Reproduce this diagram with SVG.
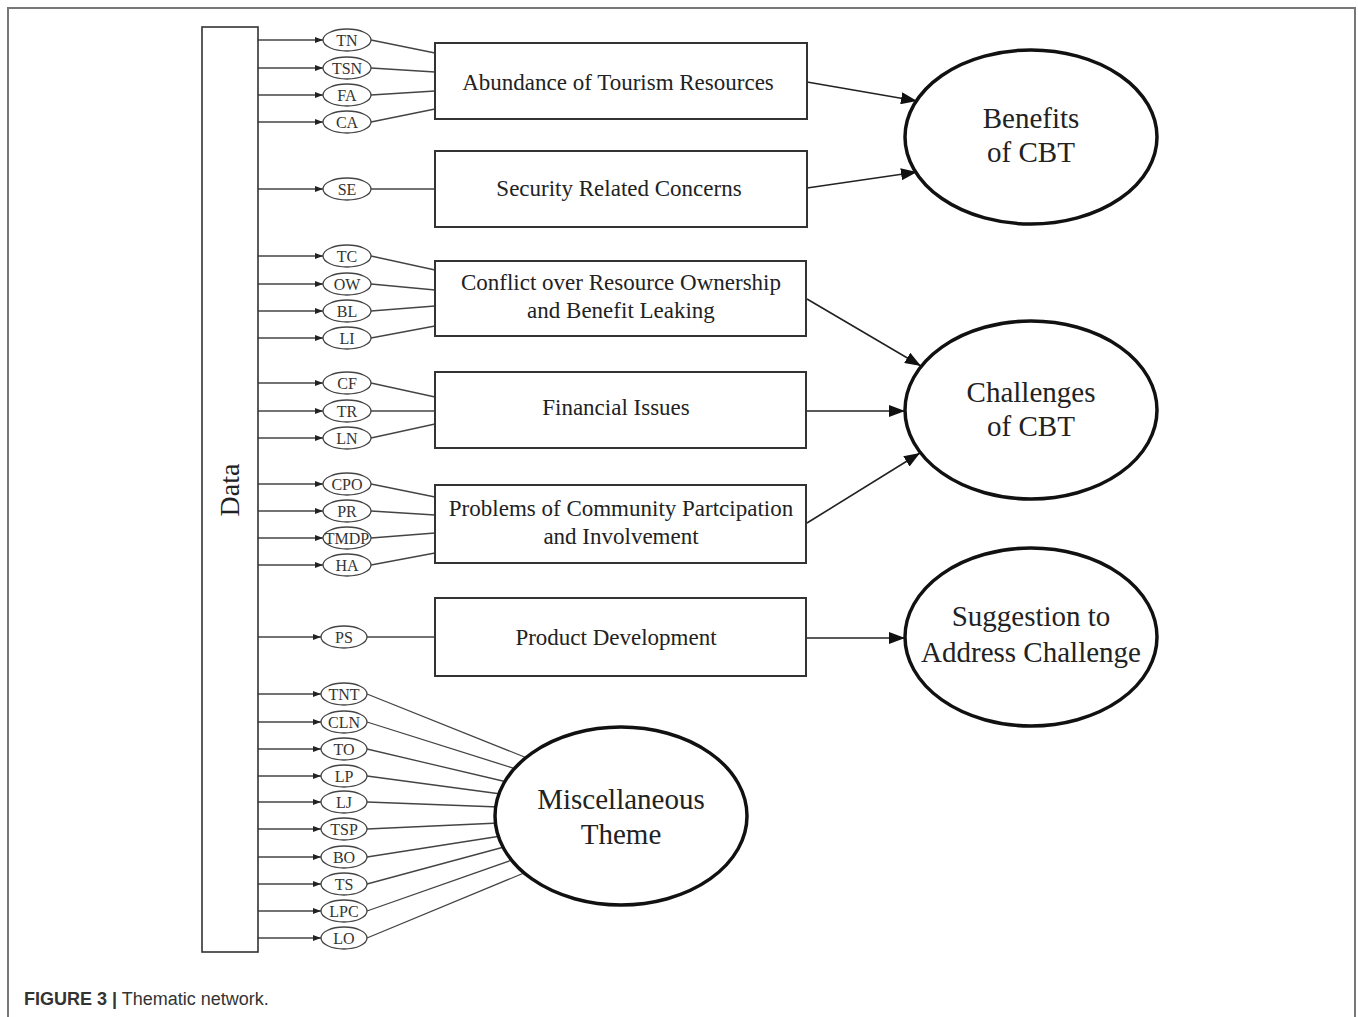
<svg xmlns="http://www.w3.org/2000/svg" width="1358" height="1017" viewBox="0 0 1358 1017">
<style>
.frame{fill:none;stroke:#777;stroke-width:2}
.box{fill:#fff;stroke:#333;stroke-width:2}
.code{fill:#fff;stroke:#444;stroke-width:1.3}
.big{fill:#fff;stroke:#111;stroke-width:3.5}
.ln{stroke:#444;stroke-width:1.3;fill:none}
.arr{stroke:#222;stroke-width:1.6;fill:none}
.ct{font-family:"Liberation Serif",serif;font-size:16px;fill:#333;text-anchor:middle}
.bt{font-family:"Liberation Serif",serif;font-size:23px;fill:#222;text-anchor:middle}
.et{font-family:"Liberation Serif",serif;font-size:29px;fill:#222;text-anchor:middle}
.cap{font-family:"Liberation Sans",Arial,sans-serif;font-size:18px;fill:#333}
</style>
<defs>
<marker id="sm" viewBox="0 0 8 6" refX="8" refY="3" markerWidth="8" markerHeight="6" markerUnits="userSpaceOnUse" orient="auto"><path d="M0,0 L8,3 L0,6 z" fill="#222"/></marker>
<marker id="lg" viewBox="0 0 16 12" refX="16" refY="6" markerWidth="16" markerHeight="12" markerUnits="userSpaceOnUse" orient="auto"><path d="M0,0 L16,6 L0,12 z" fill="#111"/></marker>
</defs>
<rect width="1358" height="1017" fill="#fff"/>
<path class="frame" d="M8,1017 V8 H1355 V1017"/>

<g id="connectors">
<g class="ln" marker-end="url(#sm)">
<line x1="258" y1="40" x2="323" y2="40"/>
<line x1="258" y1="68" x2="323" y2="68"/>
<line x1="258" y1="95" x2="323" y2="95"/>
<line x1="258" y1="122" x2="323" y2="122"/>
<line x1="258" y1="189" x2="323" y2="189"/>
<line x1="258" y1="256" x2="323" y2="256"/>
<line x1="258" y1="284" x2="323" y2="284"/>
<line x1="258" y1="311" x2="323" y2="311"/>
<line x1="258" y1="338" x2="323" y2="338"/>
<line x1="258" y1="383" x2="323" y2="383"/>
<line x1="258" y1="411" x2="323" y2="411"/>
<line x1="258" y1="438" x2="323" y2="438"/>
<line x1="258" y1="484" x2="323" y2="484"/>
<line x1="258" y1="511" x2="323" y2="511"/>
<line x1="258" y1="538" x2="323" y2="538"/>
<line x1="258" y1="565" x2="323" y2="565"/>
<line x1="258" y1="637" x2="321" y2="637"/>
<line x1="258" y1="694" x2="321" y2="694"/>
<line x1="258" y1="722" x2="321" y2="722"/>
<line x1="258" y1="749" x2="321" y2="749"/>
<line x1="258" y1="776" x2="321" y2="776"/>
<line x1="258" y1="802" x2="321" y2="802"/>
<line x1="258" y1="829" x2="321" y2="829"/>
<line x1="258" y1="857" x2="321" y2="857"/>
<line x1="258" y1="884" x2="321" y2="884"/>
<line x1="258" y1="911" x2="321" y2="911"/>
<line x1="258" y1="938" x2="321" y2="938"/>
</g>
<g class="ln">
<line x1="371" y1="40" x2="435" y2="53"/>
<line x1="371" y1="68" x2="435" y2="72"/>
<line x1="371" y1="95" x2="435" y2="91"/>
<line x1="371" y1="122" x2="435" y2="109"/>
<line x1="371" y1="189" x2="435" y2="189"/>
<line x1="371" y1="256" x2="435" y2="270"/>
<line x1="371" y1="284" x2="435" y2="290"/>
<line x1="371" y1="311" x2="435" y2="306"/>
<line x1="371" y1="338" x2="435" y2="326"/>
<line x1="371" y1="383" x2="435" y2="397"/>
<line x1="371" y1="411" x2="435" y2="411"/>
<line x1="371" y1="438" x2="435" y2="424"/>
<line x1="371" y1="484" x2="435" y2="497"/>
<line x1="371" y1="511" x2="435" y2="515"/>
<line x1="371" y1="538" x2="435" y2="533"/>
<line x1="371" y1="565" x2="435" y2="553"/>
<line x1="367" y1="637" x2="435" y2="637"/>
<line x1="367" y1="694" x2="527" y2="758"/>
<line x1="367" y1="722" x2="516" y2="769"/>
<line x1="367" y1="749" x2="507" y2="782"/>
<line x1="367" y1="776" x2="501" y2="794"/>
<line x1="367" y1="802" x2="499" y2="807"/>
<line x1="367" y1="829" x2="499" y2="823"/>
<line x1="367" y1="857" x2="501" y2="836"/>
<line x1="367" y1="884" x2="504" y2="847"/>
<line x1="367" y1="911" x2="512" y2="860"/>
<line x1="367" y1="938" x2="524" y2="873"/>
</g>
<g class="arr" marker-end="url(#lg)">
<line x1="807" y1="82" x2="917" y2="101"/>
<line x1="807" y1="188" x2="917" y2="172"/>
<line x1="807" y1="299" x2="921" y2="366"/>
<line x1="807" y1="411" x2="905" y2="411"/>
<line x1="807" y1="523" x2="920" y2="453"/>
<line x1="807" y1="638" x2="905" y2="638"/>
</g>
</g>

<g id="data"><rect class="box" x="202" y="27" width="56" height="925" style="stroke-width:1.6"/>
<text class="et" transform="translate(239,490) rotate(-90)" style="font-size:28px">Data</text></g>

<g id="code-TN"><ellipse class="code" cx="347" cy="40" rx="24" ry="11"/><text class="ct" x="347" y="45.5">TN</text></g>
<g id="code-TSN"><ellipse class="code" cx="347" cy="68" rx="24" ry="11"/><text class="ct" x="347" y="73.5">TSN</text></g>
<g id="code-FA"><ellipse class="code" cx="347" cy="95" rx="24" ry="11"/><text class="ct" x="347" y="100.5">FA</text></g>
<g id="code-CA"><ellipse class="code" cx="347" cy="122" rx="24" ry="11"/><text class="ct" x="347" y="127.5">CA</text></g>
<g id="code-SE"><ellipse class="code" cx="347" cy="189" rx="24" ry="11"/><text class="ct" x="347" y="194.5">SE</text></g>
<g id="code-TC"><ellipse class="code" cx="347" cy="256" rx="24" ry="11"/><text class="ct" x="347" y="261.5">TC</text></g>
<g id="code-OW"><ellipse class="code" cx="347" cy="284" rx="24" ry="11"/><text class="ct" x="347" y="289.5">OW</text></g>
<g id="code-BL"><ellipse class="code" cx="347" cy="311" rx="24" ry="11"/><text class="ct" x="347" y="316.5">BL</text></g>
<g id="code-LI"><ellipse class="code" cx="347" cy="338" rx="24" ry="11"/><text class="ct" x="347" y="343.5">LI</text></g>
<g id="code-CF"><ellipse class="code" cx="347" cy="383" rx="24" ry="11"/><text class="ct" x="347" y="388.5">CF</text></g>
<g id="code-TR"><ellipse class="code" cx="347" cy="411" rx="24" ry="11"/><text class="ct" x="347" y="416.5">TR</text></g>
<g id="code-LN"><ellipse class="code" cx="347" cy="438" rx="24" ry="11"/><text class="ct" x="347" y="443.5">LN</text></g>
<g id="code-CPO"><ellipse class="code" cx="347" cy="484" rx="24" ry="11"/><text class="ct" x="347" y="489.5">CPO</text></g>
<g id="code-PR"><ellipse class="code" cx="347" cy="511" rx="24" ry="11"/><text class="ct" x="347" y="516.5">PR</text></g>
<g id="code-TMDP"><ellipse class="code" cx="347" cy="538" rx="24" ry="11"/><text class="ct" x="347" y="543.5">TMDP</text></g>
<g id="code-HA"><ellipse class="code" cx="347" cy="565" rx="24" ry="11"/><text class="ct" x="347" y="570.5">HA</text></g>
<g id="code-PS"><ellipse class="code" cx="344" cy="637" rx="23" ry="11"/><text class="ct" x="344" y="642.5">PS</text></g>
<g id="code-TNT"><ellipse class="code" cx="344" cy="694" rx="23" ry="11"/><text class="ct" x="344" y="699.5">TNT</text></g>
<g id="code-CLN"><ellipse class="code" cx="344" cy="722" rx="23" ry="11"/><text class="ct" x="344" y="727.5">CLN</text></g>
<g id="code-TO"><ellipse class="code" cx="344" cy="749" rx="23" ry="11"/><text class="ct" x="344" y="754.5">TO</text></g>
<g id="code-LP"><ellipse class="code" cx="344" cy="776" rx="23" ry="11"/><text class="ct" x="344" y="781.5">LP</text></g>
<g id="code-LJ"><ellipse class="code" cx="344" cy="802" rx="23" ry="11"/><text class="ct" x="344" y="807.5">LJ</text></g>
<g id="code-TSP"><ellipse class="code" cx="344" cy="829" rx="23" ry="11"/><text class="ct" x="344" y="834.5">TSP</text></g>
<g id="code-BO"><ellipse class="code" cx="344" cy="857" rx="23" ry="11"/><text class="ct" x="344" y="862.5">BO</text></g>
<g id="code-TS"><ellipse class="code" cx="344" cy="884" rx="23" ry="11"/><text class="ct" x="344" y="889.5">TS</text></g>
<g id="code-LPC"><ellipse class="code" cx="344" cy="911" rx="23" ry="11"/><text class="ct" x="344" y="916.5">LPC</text></g>
<g id="code-LO"><ellipse class="code" cx="344" cy="938" rx="23" ry="11"/><text class="ct" x="344" y="943.5">LO</text></g>

<g id="theme-abundance"><rect class="box" x="435" y="43" width="372" height="76"/><text class="bt" x="618" y="90">Abundance of Tourism Resources</text></g>
<g id="theme-security"><rect class="box" x="435" y="151" width="372" height="76"/><text class="bt" x="619" y="196">Security Related Concerns</text></g>
<g id="theme-conflict"><rect class="box" x="435" y="261" width="371" height="75"/><text class="bt" x="621" y="290">Conflict over Resource Ownership</text><text class="bt" x="621" y="318">and Benefit Leaking</text></g>
<g id="theme-financial"><rect class="box" x="435" y="372" width="371" height="76"/><text class="bt" x="616" y="415">Financial Issues</text></g>
<g id="theme-participation"><rect class="box" x="435" y="485" width="371" height="78"/><text class="bt" x="621" y="516">Problems of Community Partcipation</text><text class="bt" x="621" y="544">and Involvement</text></g>
<g id="theme-product"><rect class="box" x="435" y="598" width="371" height="78"/><text class="bt" x="616" y="645">Product Development</text></g>

<g id="global-benefits"><ellipse class="big" cx="1031" cy="137" rx="126" ry="87"/><text class="et" x="1031" y="128">Benefits</text><text class="et" x="1031" y="162">of CBT</text></g>
<g id="global-challenges"><ellipse class="big" cx="1031" cy="410" rx="126" ry="89"/><text class="et" x="1031" y="402">Challenges</text><text class="et" x="1031" y="436">of CBT</text></g>
<g id="global-suggestion"><ellipse class="big" cx="1031" cy="637" rx="126" ry="89"/><text class="et" x="1031" y="626">Suggestion to</text><text class="et" x="1031" y="662">Address Challenge</text></g>
<g id="global-misc"><ellipse class="big" cx="621" cy="816" rx="126" ry="89"/><text class="et" x="621" y="809">Miscellaneous</text><text class="et" x="621" y="844">Theme</text></g>

<text class="cap" x="24" y="1005"><tspan font-weight="bold">FIGURE 3 |</tspan> Thematic network.</text>
</svg>
